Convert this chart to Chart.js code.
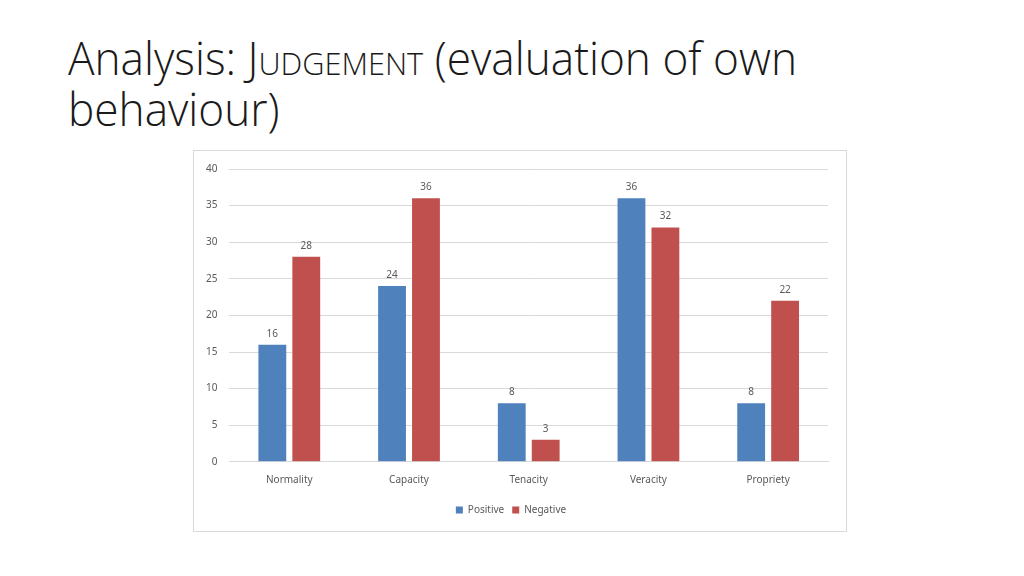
<!DOCTYPE html>
<html>
<head>
<meta charset="utf-8">
<script src="https://cdn.jsdelivr.net/npm/chart.js@4"></script>
<style>
  html, body { margin: 0; padding: 0; background: #fff; }
  body { width: 1024px; height: 576px; position: relative; overflow: hidden; }
  #title {
    position: absolute; left: 68px; top: 32px;
    font-family: "Open Sans", sans-serif; font-weight: 300;
    font-size: 46px; line-height: 51px; color: #1a1a1a;
    transform-origin: 0 0; white-space: nowrap;
  }
  .sc { font-variant: small-caps; }
  #box {
    position: absolute; left: 193px; top: 150px; width: 652px; height: 380px;
    border: 1px solid #d9d9d9; background: #fff;
  }
</style>
</head>
<body>
<div id="title"><span id="l1">Analysis: <span class="sc">Judgement</span> (evaluation of own</span><br>behaviour)</div>
<div id="box"><canvas id="chart"></canvas></div>
<script>
document.addEventListener("DOMContentLoaded", function () {
    // squeeze the title to the width of the original line
    var l1 = document.getElementById("l1");
    var w = l1.getBoundingClientRect().width;
    document.getElementById("title").style.transform = "scaleX(" + (729 / w) + ")";

    var categorias = ["Normality", "Capacity", "Tenacity", "Veracity", "Propriety"];
    var positivos = [16, 24, 8, 36, 8];
    var negativos = [28, 36, 3, 32, 22];

    var colores = ["#4f81bd", "#c0504d"];

    // etiquetas de valor encima de cada barra
    var etiquetas = {
        id: "etiquetas",
        afterDatasetsDraw: function (chart) {
            var ctx = chart.ctx;
            ctx.save();
            ctx.font = "10px 'Noto Sans', sans-serif";
            ctx.fillStyle = "#595959";
            ctx.textAlign = "center";
            ctx.textBaseline = "bottom";
            chart.data.datasets.forEach(function (ds, i) {
                chart.getDatasetMeta(i).data.forEach(function (bar, j) {
                    ctx.fillText(ds.data[j], bar.x, bar.y - 6);
                });
            });
            ctx.restore();
        }
    };

    var canvas = document.getElementById("chart");
    canvas.width = 652; canvas.height = 380;

    new Chart(canvas.getContext("2d"), {
        type: "bar",
        data: {
            labels: categorias,
            datasets: [
                { label: "Positive", data: positivos, backgroundColor: colores[0] },
                { label: "Negative", data: negativos, backgroundColor: colores[1] }
            ]
        },
        plugins: [etiquetas],
        options: {
            responsive: false,
            animation: false,
            devicePixelRatio: 1,
            categoryPercentage: 0.567,
            barPercentage: 0.82,
            layout: { padding: { left: 0, right: 18, top: 8, bottom: 6 } },
            plugins: {
                tooltip: { enabled: false },
                legend: {
                    position: "bottom",
                    labels: {
                        boxWidth: 7, boxHeight: 7, padding: 8,
                        color: "#595959",
                        font: { family: "'Noto Sans', sans-serif", size: 10 }
                    }
                }
            },
            scales: {
                x: {
                    grid: { display: false },
                    border: { color: "#d9d9d9" },
                    ticks: { color: "#595959", font: { family: "'Noto Sans', sans-serif", size: 10 }, padding: 4 },
                    // blank title only to leave room between labels and legend
                    title: { display: true, text: " ", font: { size: 6 }, padding: 0 }
                },
                y: {
                    min: 0, max: 40,
                    ticks: { stepSize: 5, color: "#595959", font: { family: "'Noto Sans', sans-serif", size: 10 }, padding: 12 },
                    grid: { color: "#d9d9d9", drawTicks: false },
                    border: { display: false }
                }
            }
        }
    });
});
</script>
</body>
</html>
